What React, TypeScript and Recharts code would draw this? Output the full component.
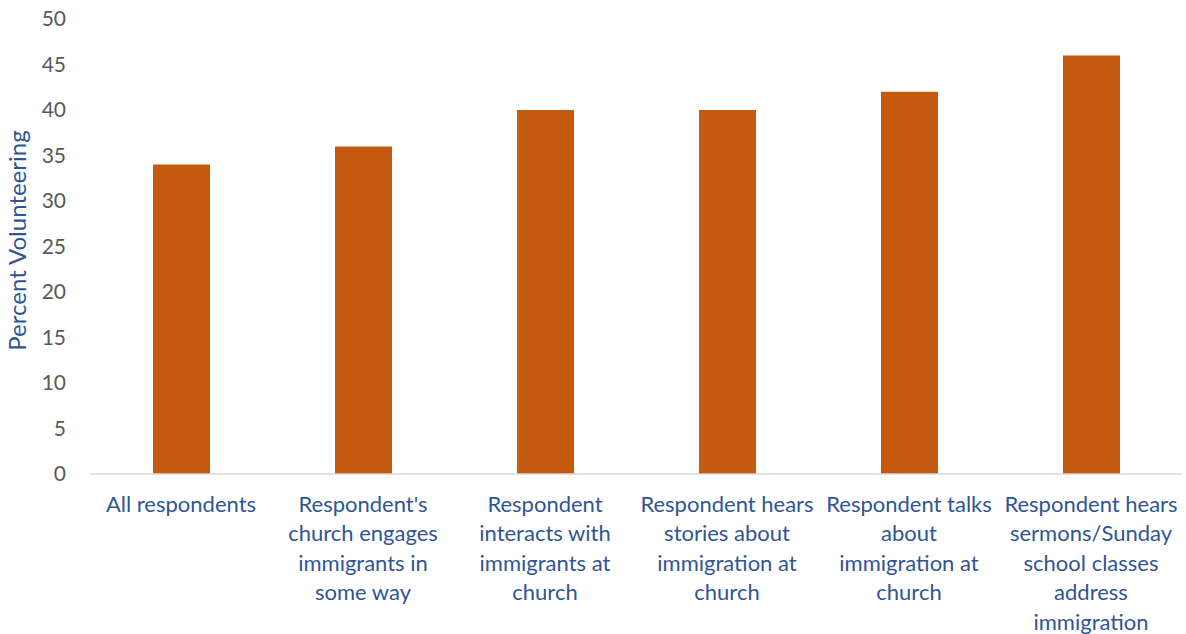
import React from "react";
import { BarChart, Bar, XAxis, YAxis } from "recharts";

const categories = [
  "All respondents",
  "Respondent's church engages immigrants in some way",
  "Respondent interacts with immigrants at church",
  "Respondent hears stories about immigration at church",
  "Respondent talks about immigration at church",
  "Respondent hears sermons/Sunday school classes address immigration",
];
const categoryLines: string[][] = [
  ["All respondents"],
  ["Respondent's", "church engages", "immigrants in", "some way"],
  ["Respondent", "interacts with", "immigrants at", "church"],
  ["Respondent hears", "stories about", "immigration at", "church"],
  ["Respondent talks", "about", "immigration at", "church"],
  ["Respondent hears", "sermons/Sunday", "school classes", "address", "immigration"],
];
const values = [34, 36, 40, 40, 42, 46];
const yTicks = [0, 5, 10, 15, 20, 25, 30, 35, 40, 45, 50];

const data = categories.map((c, i) => ({ name: c, idx: i, value: values[i] }));

const FONT = "Lato, 'Open Sans', sans-serif";
const BLUE = "#2F5597";
const GRAY = "#595959";

const XTick = (props: any) => {
  const { x, y, payload } = props;
  const lines = categoryLines[payload.index] || [String(payload.value)];
  return (
    <g>
      {lines.map((l, i) => (
        <text
          key={i}
          x={x}
          y={y + 30 + i * 29.4}
          textAnchor="middle"
          fill={BLUE}
          fontSize={22}
          fontFamily={FONT}
        >
          {l}
        </text>
      ))}
    </g>
  );
};

const YTick = (props: any) => {
  const { y, payload } = props;
  return (
    <text x={66} y={y + 7} textAnchor="end" fill={GRAY} fontSize={21} fontFamily={FONT}>
      {payload.value}
    </text>
  );
};

export default function App() {
  return (
    <div style={{ position: "absolute", left: 0, top: 0, width: 1186, height: 634, background: "#fff" }}>
      <BarChart
        width={1186}
        height={634}
        data={data}
        margin={{ top: 19, right: 4, bottom: 0, left: 0 }}
      >
        <XAxis
          dataKey="name"
          interval={0}
          tick={<XTick />}
          tickLine={false}
          axisLine={{ stroke: "#D9D9D9", strokeWidth: 1.5 }}
          height={160}
        />
        <YAxis
          domain={[0, 50]}
          ticks={yTicks}
          width={90}
          tick={<YTick />}
          tickLine={false}
          axisLine={false}
          label={{
            value: "Percent Volunteering",
            angle: -90,
            position: "insideLeft",
            dx: 12,
            dy: -6,
            style: { textAnchor: "middle", fill: BLUE, fontSize: 24, fontFamily: FONT },
          }}
        />
        <Bar dataKey="value" fill="#C55A11" barSize={57} isAnimationActive={false} />
      </BarChart>
    </div>
  );
}
